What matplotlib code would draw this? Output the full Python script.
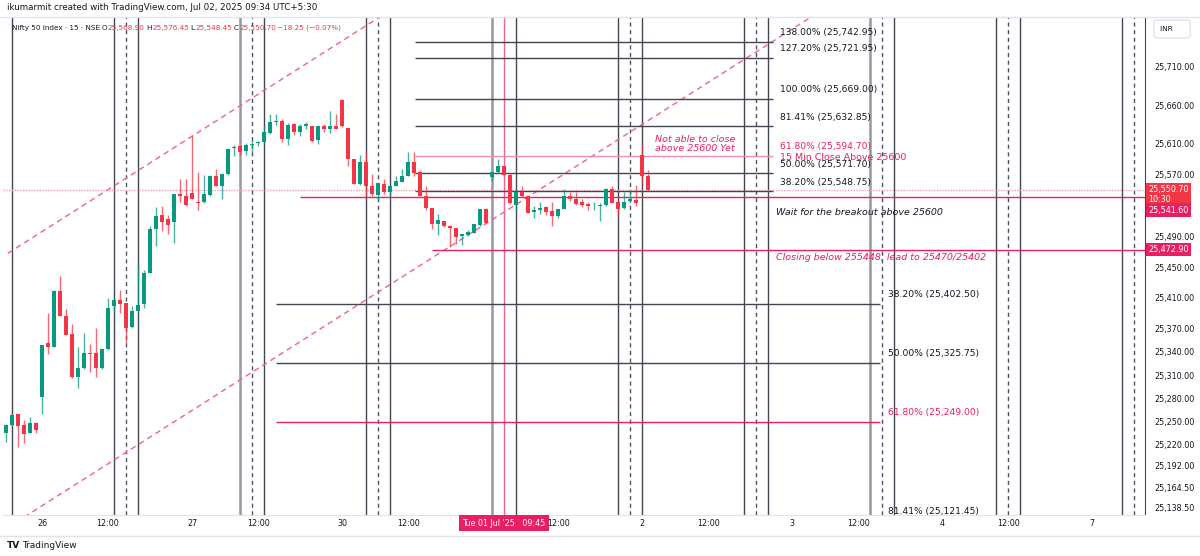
import matplotlib.pyplot as plt
import matplotlib.transforms as mtransforms

plt.rcParams['font.family'] = ['DejaVu Sans']

## Candles: index 0 = 26 Jun 09:15, 25 fifteen-minute bars per session
first_idx = -6
opens = [25235, 25245, 25259, 25245, 25235, 25248,
         25281, 25351, 25347, 25419, 25387, 25363, 25307, 25319, 25338, 25338,
         25319, 25344, 25399, 25407, 25404, 25372, 25393, 25402, 25443, 25500,
         25518, 25512, 25509, 25545, 25542,
         25546, 25535, 25535, 25544, 25568, 25556, 25571, 25605, 25607, 25601,
         25609, 25611, 25612, 25624, 25638, 25640, 25616, 25636, 25626, 25634,
         25634, 25615, 25633, 25629, 25633,
         25667, 25631, 25590, 25558, 25587, 25555, 25544, 25558, 25548, 25555,
         25561, 25568, 25587, 25573, 25542, 25527, 25506, 25510, 25504, 25501,
         25491, 25492, 25495, 25505, 25525,
         25567, 25573, 25581, 25570, 25531, 25547, 25542, 25522, 25524, 25528,
         25523, 25516, 25525, 25542, 25538, 25535, 25532, 25529, 25529, 25531,
         25552, 25535, 25527, 25536, 25537,
         25596, 25568.9]
highs = [25247, 25260, 25260, 25251, 25256, 25249,
         25349, 25390, 25420, 25438, 25396, 25376, 25347, 25365, 25350, 25371,
         25344, 25410, 25410, 25421, 25404, 25400, 25453, 25447, 25503, 25528,
         25530, 25518, 25545, 25565, 25564,
         25622, 25573, 25570, 25570, 25578, 25571, 25605, 25609, 25609, 25611,
         25615, 25614, 25633, 25649, 25649, 25643, 25637, 25637, 25636, 25639,
         25634, 25634, 25636, 25653, 25649,
         25668, 25631, 25590, 25596, 25600, 25571, 25559, 25565, 25555, 25568,
         25578, 25600, 25600, 25576, 25555, 25527, 25519, 25510, 25505, 25501,
         25493, 25498, 25506, 25525, 25527,
         25574, 25590, 25581, 25572, 25550, 25555, 25543, 25529, 25535, 25529,
         25535, 25526, 25551, 25547, 25547, 25538, 25535, 25535, 25533, 25553,
         25555, 25537, 25548, 25550, 25557,
         25609, 25576.45]
lows = [25223, 25244, 25216, 25222, 25235, 25235,
        25260, 25337, 25347, 25386, 25362, 25306, 25293, 25318, 25314, 25308,
        25318, 25343, 25392, 25390, 25351, 25371, 25392, 25397, 25442, 25477,
        25497, 25493, 25481, 25535, 25529,
        25538, 25524, 25534, 25543, 25555, 25539, 25570, 25594, 25596, 25596,
        25598, 25608, 25611, 25623, 25635, 25613, 25609, 25622, 25621, 25630,
        25612, 25610, 25626, 25624, 25630,
        25632, 25581, 25558, 25557, 25542, 25542, 25536, 25545, 25542, 25555,
        25560, 25568, 25568, 25542, 25524, 25500, 25492, 25502, 25476, 25480,
        25479, 25491, 25494, 25504, 25507,
        25562, 25572, 25569, 25532, 25524, 25541, 25520, 25514, 25519, 25518,
        25504, 25514, 25525, 25536, 25531, 25528, 25524, 25524, 25510, 25530,
        25533, 25517, 25525, 25535, 25530,
        25559, 25548.45]
closes = [25245, 25258, 25244, 25234, 25248, 25238,
          25349, 25347, 25419, 25387, 25362, 25307, 25319, 25338, 25337, 25319,
          25344, 25397, 25407, 25402, 25371, 25393, 25401, 25443, 25500, 25516,
          25509, 25505, 25545, 25542, 25531,
          25539, 25534, 25545, 25568, 25556, 25571, 25604, 25606, 25600, 25609,
          25610, 25612, 25625, 25638, 25640, 25616, 25635, 25625, 25633, 25636,
          25614, 25634, 25629, 25633, 25630,
          25633, 25591, 25558, 25587, 25555, 25545, 25559, 25548, 25555, 25562,
          25568, 25587, 25572, 25542, 25527, 25506, 25511, 25504, 25501, 25489,
          25493, 25496, 25506, 25525, 25508,
          25574, 25581, 25570, 25533, 25547, 25542, 25521, 25524, 25527, 25522,
          25516, 25525, 25542, 25538, 25532, 25531, 25529, 25530, 25531, 25552,
          25534, 25525, 25535, 25538, 25533,
          25569, 25550.7]

time_ticks = [0, 11, 25, 36, 50, 61, 86, 100, 111, 125, 136, 150, 161, 175]
time_labels = ['26', '12:00', '27', '12:00', '30', '12:00', '12:00', '2',
               '12:00', '3', '12:00', '4', '12:00', '7']
cursor_idx = 77
cursor_label = "Tue 01 Jul '25   09:45"

price_ticks = [25710, 25660, 25610, 25570, 25490, 25450, 25410, 25370, 25340,
               25310, 25280, 25250, 25220, 25192, 25164.5, 25138.5]

# fib retracement drawings
fib_up_levels = ['138.00%', '127.20%', '100.00%', '81.41%', '61.80%', '50.00%', '38.20%']
fib_up_prices = [25742.95, 25721.95, 25669.00, 25632.85, 25594.70, 25571.70, 25548.75]
fib_up_span = [62.2, 121.8]
fib_dn_levels = ['38.20%', '50.00%', '61.80%', '81.41%']
fib_dn_prices = [25402.50, 25325.75, 25249.00, 25121.45]
fib_dn_span = [39, 139.7]

# parallel channel
channel_x = [-5.7, 130]
channel_upper = [25468, 26140]
channel_lower = [25112, 25784]

# horizontal rays
ray_prices = [25541.6, 25472.9]
ray_starts = [43, 65]
last_price = 25550.7

# repeating vertical line groups
session_marks = [-7, 14, 35, 56, 77, 98, 119, 140, 161, 182]
gray_marks = [35, 77, 140]

up_col = '#089981'
dn_col = '#F23645'
pink = '#E91E63'
dark = '#131722'

fig = plt.figure(figsize=(12, 5.56), dpi=100)
ax = fig.add_axes([3/1200, 41/556, 1142/1200, 498/556])
ax.set_xlim(-6.5, 183.8)
ax.set_ylim(25128.2, 25774.9)

## vertical lines
for m in session_marks:
    left_c = '#9598a1' if m in gray_marks else '#434651'
    left_w = 1.8 if m in gray_marks else 1
    ax.axvline(m - 2, color=left_c, lw=left_w, zorder=1)
    if m != cursor_idx:
        ax.axvline(m, color='#50535e', lw=1, ls=(0, (3, 2.5)), zorder=1)
    ax.axvline(m + 2, color='#434651', lw=1, zorder=1)
ax.axvline(cursor_idx, color='#f06292', lw=1, zorder=2)

## channel
ax.plot(channel_x, channel_upper, color='#f06292', lw=1, ls=(0, (4, 3)), zorder=2)
ax.plot(channel_x, channel_lower, color='#f06292', lw=1, ls=(0, (4, 3)), zorder=2)

## fibs
off = mtransforms.offset_copy(ax.transData, fig=fig, x=0, y=9, units='dots')
for lev, p in zip(fib_up_levels, fib_up_prices):
    c = '#f48fb1' if lev == '61.80%' else '#434651'
    ax.hlines(p, fib_up_span[0], fib_up_span[1], color=c, lw=1, zorder=2)
    tc = pink if lev == '61.80%' else dark
    ax.text(fib_up_span[1] + 1.2, p, f'{lev} ({p:,.2f})', transform=off,
            color=tc, fontsize=6.6, va='center', ha='left', zorder=5)
for lev, p in zip(fib_dn_levels, fib_dn_prices):
    c = pink if lev == '61.80%' else '#434651'
    ax.hlines(p, fib_dn_span[0], fib_dn_span[1], color=c, lw=1, zorder=2)
    tc = pink if lev == '61.80%' else dark
    ax.text(fib_dn_span[1] + 1.2, p, f'{lev} ({p:,.2f})', transform=off,
            color=tc, fontsize=6.6, va='center', ha='left', zorder=5, clip_on=False)

## horizontal rays and price line
for p, s in zip(ray_prices, ray_starts):
    ax.hlines(p, s, 183.8, color=pink, lw=1, zorder=2)
ax.axhline(last_price, color='#f7a1b5', lw=1, ls=(0, (1, 1)), zorder=1)

## candles
for k in range(len(opens)):
    x = first_idx + k
    o, h, l, c = opens[k], highs[k], lows[k], closes[k]
    col = up_col if c >= o else dn_col
    ax.vlines(x, l, h, color=col, lw=1, alpha=0.75, zorder=3)
    ax.bar(x, max(abs(c - o), 0.9), bottom=min(o, c), width=0.66,
           color=col, lw=0, zorder=4)

## notes
ax.text(102.2, 25610, 'Not able to close\nabove 25600 Yet', color=pink,
        fontsize=6.8, style='italic', va='center', linespacing=1.0, zorder=5)
ax.text(123, 25593, '15 Min Close Above 25600', color=pink, fontsize=6.8,
        va='center', zorder=5)
ax.text(122.3, 25520.4, 'Wait for the breakout above 25600', color=dark,
        fontsize=6.8, style='italic', va='center', zorder=5)
ax.text(122.3, 25462, 'Closing below 255448, lead to 25470/25402', color=pink,
        fontsize=6.8, style='italic', va='center', zorder=5)

## axes styling
for s in ['left', 'top']:
    ax.spines[s].set_visible(False)
ax.spines['right'].set_color('#434651')
ax.spines['bottom'].set_color('#e0e3eb')
ax.yaxis.tick_right()
ax.set_yticks(price_ticks)
ax.set_yticklabels([f'{p:,.2f}' for p in price_ticks])
ax.set_xticks(time_ticks)
ax.set_xticklabels(time_labels)
ax.tick_params(axis='y', length=0, pad=7, labelsize=5.8, labelcolor=dark)
ax.tick_params(axis='x', length=0, pad=3, labelsize=5.8, labelcolor=dark)

## price badges on axis
ax.text(1.003, last_price + 6, '25,550.70\n10:30', transform=ax.get_yaxis_transform(),
        color='white', fontsize=5.8, va='top', ha='left', linespacing=1.1,
        bbox=dict(boxstyle='square,pad=0.3', fc=dn_col, ec='none'),
        clip_on=False, zorder=6)
ax.text(1.003, 25524, '25,541.60', transform=ax.get_yaxis_transform(),
        color='white', fontsize=5.8, va='center', ha='left',
        bbox=dict(boxstyle='square,pad=0.3', fc=pink, ec='none'),
        clip_on=False, zorder=7)
ax.text(1.003, ray_prices[1], '25,472.90', transform=ax.get_yaxis_transform(),
        color='white', fontsize=5.8, va='center', ha='left',
        bbox=dict(boxstyle='square,pad=0.3', fc=pink, ec='none'),
        clip_on=False, zorder=6)
ax.text(1.013, 1 - 12/498, 'INR     ', transform=ax.transAxes, color=dark,
        fontsize=5.3, va='center', ha='left',
        bbox=dict(boxstyle='round,pad=0.8,rounding_size=0.4', fc='white', ec='#e0e3eb'))

## cursor badge on time axis
ax.text(cursor_idx, -8/498, cursor_label, transform=ax.get_xaxis_transform(),
        color='white', fontsize=5.8, va='center', ha='center',
        bbox=dict(boxstyle='square,pad=0.45', fc=pink, ec='none'), clip_on=False)

## legend row
legend_parts = [('Nifty 50 Index · 15 · NSE', dark, 12), ('O', dark, 102),
                ('25,568.90', dn_col, 107), ('H', dark, 146), ('25,576.45', dn_col, 152),
                ('L', dark, 190), ('25,548.45', dn_col, 195), ('C', dark, 234),
                ('25,550.70', dn_col, 239), ('−18.25 (−0.07%)', dn_col, 277)]
for txt, c, px in legend_parts:
    fig.text(px/1200, 1 - 28/556, txt, color=c, fontsize=5.2, va='center', ha='left')

## header / footer
fig.text(7/1200, 1 - 8/556, 'ikumarmit created with TradingView.com, Jul 02, 2025 09:34 UTC+5:30',
         color=dark, fontsize=6.3, va='center', ha='left')
fig.add_artist(plt.Line2D([0, 1], [1 - 17/556, 1 - 17/556], color='#e0e3eb', lw=1))
fig.add_artist(plt.Line2D([0, 1], [1 - 536/556, 1 - 536/556], color='#e0e3eb', lw=1))
fig.text(7/1200, 1 - 545/556, 'TV', color=dark, fontsize=6.5, weight='bold', va='center')
fig.text(22/1200, 1 - 545/556, 'TradingView', color=dark, fontsize=6.5, va='center')

plt.savefig('out.png', dpi=100)
